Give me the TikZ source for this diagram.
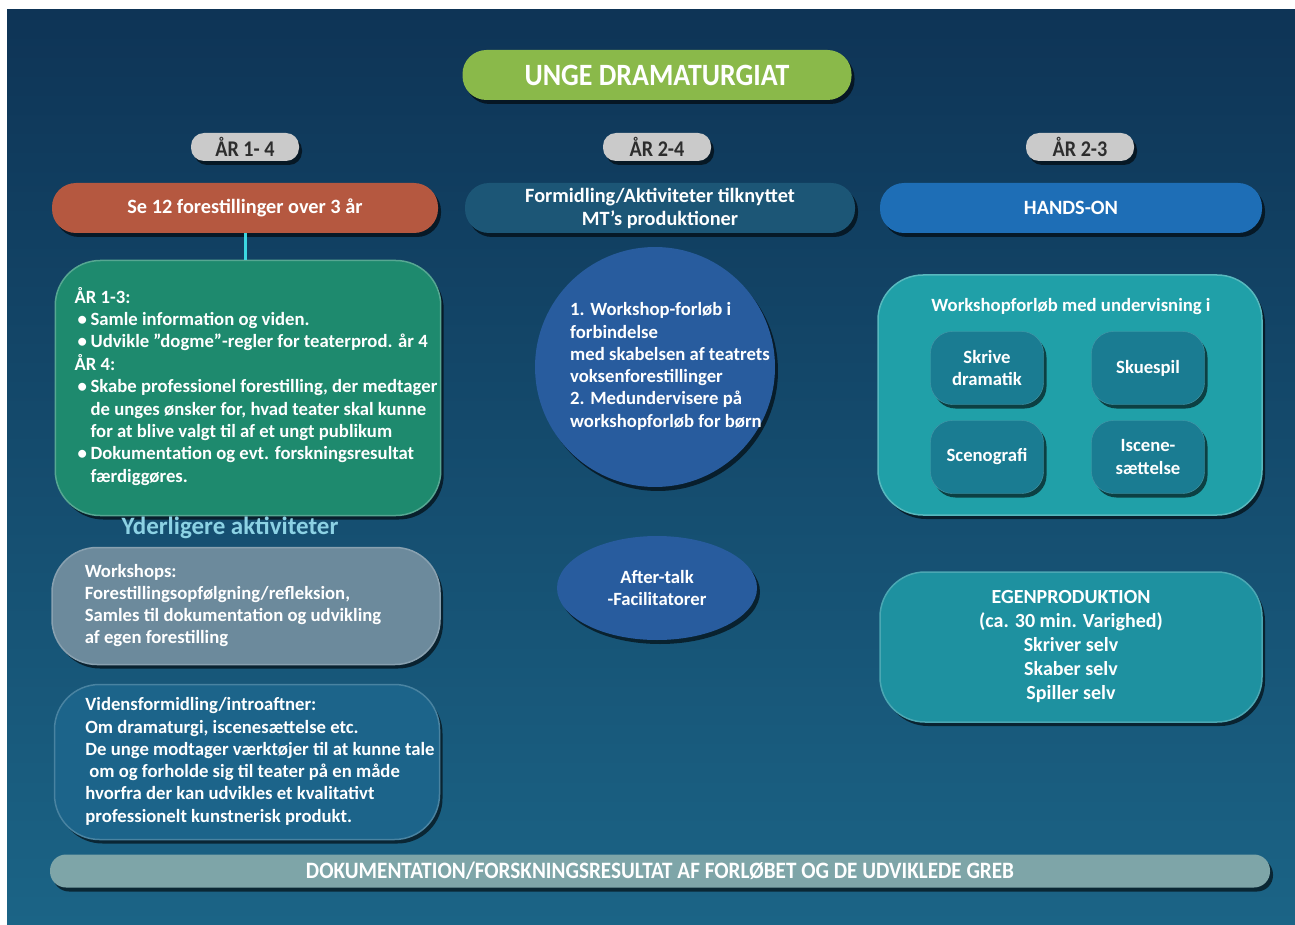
\documentclass[tikz,border=0pt]{standalone}
\usepackage{fontspec}
\setmainfont{Carlito}
\newfontfamily\narrowfont[FakeStretch=0.9]{Carlito}
\usepackage{tikz}
\usetikzlibrary{shadows}
\usetikzlibrary{shapes.geometric}
\usepackage{color}
\definecolor{Bg-top}{RGB}{14,52,86}
\definecolor{Bg-bot}{RGB}{27,100,134}
\definecolor{Pill-green}{RGB}{138,185,74}
\definecolor{Pill-gray}{RGB}{202,202,202}
\definecolor{Pill-text}{RGB}{45,45,45}
\definecolor{Head-red}{RGB}{181,88,64}
\definecolor{Head-teal}{RGB}{28,86,118}
\definecolor{Head-blue}{RGB}{30,110,182}
\definecolor{Box-green}{RGB}{30,138,110}
\definecolor{Box-gray}{RGB}{108,138,156}
\definecolor{Box-blue}{RGB}{28,100,138}
\definecolor{Ball-blue}{RGB}{40,92,158}
\definecolor{Box-teal}{RGB}{32,160,168}
\definecolor{Sub-teal}{RGB}{26,124,146}
\definecolor{Egen-teal}{RGB}{30,145,160}
\definecolor{Bar-gray}{RGB}{126,165,168}
\definecolor{Line-cyan}{RGB}{60,215,225}
\definecolor{Text-cyan}{RGB}{140,210,228}

\begin{document}
\begin{tikzpicture}[x=1pt, y=-1pt]
    \tikzset{ box/.style={text=white, font=\fontsize{18.7}{22.3}\selectfont\bfseries, drop shadow={shadow xshift=3pt, shadow yshift=-4pt, opacity=0.6, fill=black} } }
    \tikzset{ pill/.style={box, rounded corners=24pt} }
    \tikzset{ yr/.style={box, fill=Pill-gray, text=Pill-text, rounded corners=13pt, minimum width=108pt, minimum height=28pt, inner sep=0pt, font=\narrowfont\fontsize{22.4}{24}\selectfont\bfseries} }
    \tikzset{ head/.style={pill, minimum height=50pt, align=center, font=\fontsize{20.3}{23}\selectfont\bfseries} }
    \tikzset{ big/.style={box, rounded corners=45pt, line width=1.5pt} }
    \tikzset{ sub/.style={box, fill=Sub-teal, draw=Sub-teal!80!white, rounded corners=22pt, minimum width=113pt, minimum height=73pt, align=center} }

    \fill[white] (0,0) rectangle (1295,925);
    \shade[top color=Bg-top, bottom color=Bg-bot] (7,10) rectangle (1295,925);
    \useasboundingbox (0,0) rectangle (1295,925);

    \node[pill, fill=Pill-green, minimum width=389pt, minimum height=50pt, font=\narrowfont\fontsize{31}{33}\selectfont\bfseries] (title) at (657,75) {UNGE DRAMATURGIAT};

    \node[yr] (yr1) at (245,147) {ÅR 1- 4};
    \node[yr] (yr2) at (657,147) {ÅR 2-4};
    \node[yr] (yr3) at (1080,147) {ÅR 2-3};

    \node[head, fill=Head-red, minimum width=386pt] (see) at (245,208) {Se 12 forestillinger over 3 år};
    \node[head, fill=Head-teal, minimum width=390pt] (formid) at (660,208) {Formidling/Aktiviteter tilknyttet\\MT’s produktioner};
    \node[head, fill=Head-blue, minimum width=382pt] (hands) at (1071,208) {HANDS-ON};

    % left column
    \node[big, fill=Box-green, draw=Box-green!75!white, minimum width=383pt, minimum height=255pt] (aar) at (248,388) {\hspace*{16pt}\begin{tabular}{@{}l@{}}
      ÅR 1-3:\\
      \hspace*{3pt}\makebox[13pt][l]{\textbullet}Samle information og viden.\\
      \hspace*{3pt}\makebox[13pt][l]{\textbullet}Udvikle ”dogme”-regler for teaterprod. år 4\\
      ÅR 4:\\
      \hspace*{3pt}\makebox[13pt][l]{\textbullet}Skabe professionel forestilling, der medtager\\
      \hspace*{16pt}de unges ønsker for, hvad teater skal kunne\\
      \hspace*{16pt}for at blive valgt til af et ungt publikum\\
      \hspace*{3pt}\makebox[13pt][l]{\textbullet}Dokumentation og evt. forskningsresultat\\
      \hspace*{16pt}færdiggøres.
      \end{tabular}};
    \draw[Line-cyan, line width=3pt] (see.south) -- (see.south |- aar.north);

    \node[text=Text-cyan, font=\fontsize{25}{28}\selectfont\bfseries] (yder) at (230,528) {Yderligere aktiviteter};

    \node[big, fill=Box-gray, draw=Box-gray!80!white, minimum width=388pt, minimum height=117pt] (wshop) at (246,606) {\begin{tabular}{@{}l@{}}
      Workshops:\\
      Forestillingsopfølgning/refleksion,\\
      Samles til dokumentation og udvikling\\
      af egen forestilling
      \end{tabular}\hspace*{26pt}};

    \node[big, fill=Box-blue, draw=Box-blue!80!white, minimum width=385pt, minimum height=155pt] (viden) at (247,762) {\hspace*{26pt}\begin{tabular}{@{}l@{}}
      Vidensformidling/introaftner:\\
      Om dramaturgi, iscenesættelse etc.\\
      De unge modtager værktøjer til at kunne tale\\
      \hspace*{4pt}om og forholde sig til teater på en måde\\
      hvorfra der kan udvikles et kvalitativt\\
      professionelt kunstnerisk produkt.
      \end{tabular}};

    % middle column
    \node[box, circle, fill=Ball-blue, minimum size=234pt, inner sep=0pt] (wcirc) at (655,367) {\hspace*{15pt}\begin{tabular}{@{}l@{}}
      1. Workshop-forløb i\\
      forbindelse\\
      med skabelsen af teatrets\\
      voksenforestillinger\\
      2. Medundervisere på\\
      workshopforløb for børn
      \end{tabular}\hspace*{-15pt}};
    \node[box, ellipse, fill=Ball-blue, minimum width=200pt, minimum height=104pt, align=center] (after) at (657,588) {After-talk\\-Facilitatorer};

    % right column
    \node[big, fill=Box-teal, draw=Box-teal!75!white, minimum width=384pt, minimum height=240pt] (wsbox) at (1070,395) {};
    \node[text=white, font=\fontsize{18.7}{22}\selectfont\bfseries] (wstitle) at (1071,307) {Workshopforløb med undervisning i};
    \node[sub] (skrive) at (987,368) {Skrive\\dramatik};
    \node[sub] (skuespil) at (1148,368) {Skuespil};
    \node[sub] (scenografi) at (987,457) {Scenografi};
    \node[sub] (iscene) at (1148,457) {Iscene-\\sættelse};

    \node[big, fill=Egen-teal, draw=Egen-teal!80!white, minimum width=382pt, minimum height=150pt, align=center, font=\fontsize{20}{24}\selectfont\bfseries] (egen) at (1071,647) {EGENPRODUKTION\\(ca. 30 min. Varighed)\\Skriver selv\\Skaber selv\\Spiller selv};

    \node[box, fill=Bar-gray, rounded corners=16pt, minimum width=1220pt, minimum height=33pt, font=\narrowfont\fontsize{23.5}{25}\selectfont\bfseries] (doku) at (660,871) {DOKUMENTATION/FORSKNINGSRESULTAT AF FORLØBET OG DE UDVIKLEDE GREB};
\end{tikzpicture}
\end{document}
